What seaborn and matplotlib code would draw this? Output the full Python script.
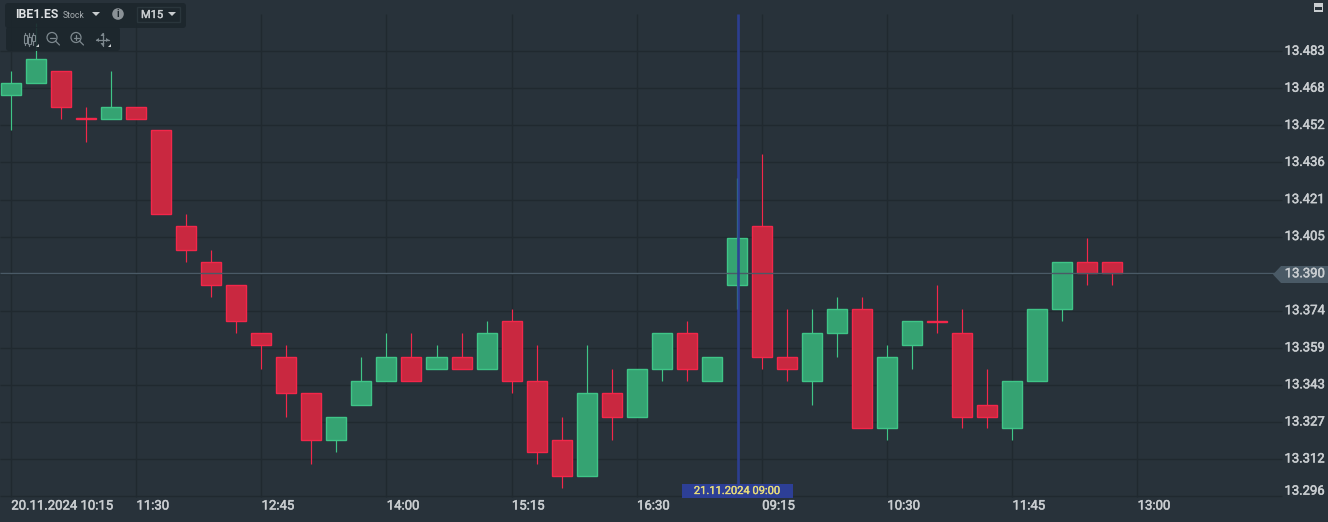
import numpy as np
import pandas as pd
import seaborn as sns
import matplotlib
matplotlib.use("Agg")
import matplotlib.pyplot as plt
import matplotlib.patheffects as pe
from matplotlib.patches import Rectangle, Polygon, Circle, FancyBboxPatch
from matplotlib.transforms import Affine2D, blended_transform_factory

opens  = [13.465,13.47,13.475,13.455,13.455,13.46,13.45,13.41,13.395,13.385,13.365,13.355,13.34,13.32,13.335,13.345,13.355,13.35,13.355,13.35,13.37,13.345,13.32,13.305,13.34,13.33,13.35,13.365,13.345,13.385,13.41,13.355,13.345,13.365,13.375,13.325,13.36,13.37,13.365,13.335,13.325,13.345,13.375,13.395,13.395]
closes = [13.47,13.48,13.46,13.455,13.46,13.455,13.415,13.40,13.385,13.37,13.36,13.34,13.32,13.33,13.345,13.355,13.345,13.355,13.35,13.365,13.345,13.315,13.305,13.34,13.33,13.35,13.365,13.35,13.355,13.405,13.355,13.35,13.365,13.375,13.325,13.355,13.37,13.37,13.33,13.33,13.345,13.375,13.395,13.39,13.39]
highs  = [13.475,13.495,13.475,13.46,13.475,13.46,13.45,13.415,13.40,13.385,13.365,13.36,13.34,13.33,13.355,13.365,13.365,13.36,13.365,13.37,13.375,13.36,13.33,13.36,13.35,13.35,13.365,13.37,13.355,13.43,13.44,13.375,13.375,13.38,13.38,13.36,13.37,13.385,13.375,13.35,13.345,13.375,13.395,13.405,13.395]
lows   = [13.45,13.47,13.455,13.445,13.455,13.455,13.415,13.395,13.38,13.365,13.35,13.33,13.31,13.315,13.335,13.345,13.345,13.35,13.35,13.35,13.34,13.31,13.30,13.305,13.32,13.33,13.345,13.345,13.345,13.375,13.35,13.345,13.335,13.355,13.325,13.32,13.35,13.365,13.325,13.325,13.32,13.345,13.37,13.385,13.385]

price_ticks  = [13.4832,13.4677,13.4521,13.4366,13.4210,13.4055,13.3899,13.3744,13.3588,13.3433,13.3277,13.3122,13.2966]
price_labels = ["13.483","13.468","13.452","13.436","13.421","13.405","13.390","13.374","13.359","13.343","13.327","13.312","13.296"]
time_ticks   = [0,5,10,15,20,25,30,35,40,45]
time_labels  = ["20.11.2024 10:15","11:30","12:45","14:00","15:15","16:30","09:15","10:30","11:45","13:00"]
last_price = 13.39
cursor_index = 29.04
cursor_label = "21.11.2024 09:00"

BG="#28323a"; GRID="#20292f"; TXT="#c9cdd0"; PANEL="#1c262c"
GF="#35a372"; GE="#3fc587"; RF="#c92840"; RE="#f3274a"; BLUE="#2d3f96"; LAST="#4a5a66"

sns.set_theme(style="dark", rc={"axes.facecolor":BG,"figure.facecolor":BG})
plt.rcParams['font.family']=['Roboto','DejaVu Sans']

df=pd.DataFrame({"i":np.arange(len(opens)),"o":opens,"c":closes,"h":highs,"l":lows})
df["height"]=(df.c-df.o).abs()
df["bottom"]=df[["o","c"]].min(axis=1)
thin=df.height<1e-6
df.loc[thin,"height"]=0.0005
df.loc[thin,"bottom"]-=0.00025
df["up"]=df.c>df.o

W,H=1328,522
fig=plt.figure(figsize=(W/100,H/100),dpi=100)
ax=fig.add_axes([0,0,1,1])
ppx=25.03; ppu=2384; x0=11.0; y0=273.5
for up,(fc,ec) in {True:(GF,GE),False:(RF,RE)}.items():
    d=df[df.up==up]
    ax.vlines(d.i,d.l,d.h,color=ec,lw=0.85,zorder=2.5)
    sns.barplot(data=d,x="i",y="height",native_scale=True,errorbar=None,ax=ax,
                bottom=d.bottom.values,width=0.8,color=fc,saturation=1,
                edgecolor=ec,linewidth=1.0,zorder=3)
ax.set_xlim(-x0/ppx,(W-x0)/ppx)
ax.set_ylim(last_price-(H-y0)/ppu,last_price+y0/ppu)
ax.axis("off")

px=Affine2D().scale(1,-1).translate(0,H)
xd=blended_transform_factory(ax.transData,px)
yd=blended_transform_factory(px,ax.transData)
heavy=[pe.withStroke(linewidth=0.35,foreground=TXT)]

# grid
ax.vlines(time_ticks,14,497,color=GRID,lw=1.0,transform=xd,zorder=1)
ax.hlines(price_ticks,0,1282,color=GRID,lw=1.0,transform=yd,zorder=1)
# time labels
for t,l in zip(time_ticks,time_labels):
    x=x0+t*ppx+0.3
    ax.text(x,506,l,transform=px,color=TXT,fontsize=9.45,ha="left",va="center",path_effects=heavy)
# price labels
for p,l in zip(price_ticks,price_labels):
    yy=y0+(last_price-p)*ppu
    if l=="13.296": yy-=5
    ax.text(1324.5,yy,l,transform=px,color=TXT,fontsize=9.4,ha="right",va="center",zorder=8,path_effects=heavy)
# last price
ax.hlines([last_price],0,1282,color=LAST,lw=1.0,transform=yd,zorder=5)
ax.add_patch(Polygon([(1273,274.5),(1281,266),(1328,266),(1328,283),(1281,283)],transform=px,fc=LAST,ec="none",zorder=6))
# cursor
ax.vlines([cursor_index],14,484,color=BLUE,lw=1.9,alpha=0.95,transform=xd,zorder=6)
ax.add_patch(Rectangle((681.5,483.5),111,14.5,transform=px,fc=BLUE,ec="none",zorder=7))
ax.text(737,491,cursor_label,transform=px,color="#e8dc7a",fontsize=8,ha="center",va="center",zorder=8,
        path_effects=[pe.withStroke(linewidth=0.25,foreground="#e8dc7a")])

# toolbar panels
ax.add_patch(FancyBboxPatch((8,6),175,19,boxstyle="round,pad=3",transform=px,fc=PANEL,ec="none",alpha=0.9,zorder=7))
ax.add_patch(FancyBboxPatch((9,30),108,18,boxstyle="round,pad=3",transform=px,fc=PANEL,ec="none",alpha=0.9,zorder=7))
ax.add_patch(Rectangle((136.5,6.5),43,15,transform=px,fc="none",ec="#2a363c",lw=1,zorder=8))
ax.text(15.5,15,"IBE1.ES",transform=px,color="#dfe2e4",fontsize=8.8,fontweight="bold",ha="left",va="center",zorder=9)
ax.text(63,15.5,"Stock",transform=px,color="#a9afb3",fontsize=6.2,ha="left",va="center",zorder=9)
ax.add_patch(Polygon([(92,12),(100,12),(96,16)],transform=px,fc="#c9cdd0",ec="none",zorder=9))
ax.add_patch(Circle((118,14),5.8,transform=px,fc="#8a9196",ec="none",zorder=9))
ax.text(118,14,"i",transform=px,color=PANEL,fontsize=7,fontweight="bold",ha="center",va="center",zorder=10)
ax.text(141,15,"M15",transform=px,color="#c9cdd0",fontsize=8,ha="left",va="center",zorder=9,
        path_effects=[pe.withStroke(linewidth=0.3,foreground="#c9cdd0")])
ax.add_patch(Polygon([(168,12),(176,12),(172,16)],transform=px,fc="#c9cdd0",ec="none",zorder=9))
IC="#7d888e"
# candles icon
for xx,(a,b,c,d_) in zip((25,29,33),((33,45,35,43),(33,46,37,44),(33,45,35,41))):
    ax.plot([xx,xx],[a,b],color=IC,lw=0.9,transform=px,zorder=9)
    ax.add_patch(Rectangle((xx-1.5,c),3,d_-c,transform=px,fc=PANEL,ec=IC,lw=0.8,zorder=10))
# magnifiers
for cx,plus in ((52,False),(76,True)):
    ax.add_patch(Circle((cx,37.5),5,transform=px,fc="none",ec=IC,lw=0.9,zorder=9))
    ax.plot([cx+3.5,cx+7.5],[41,45],color=IC,lw=0.9,transform=px,zorder=9)
    ax.plot([cx-2.5,cx+2.5],[37.5,37.5],color=IC,lw=0.9,transform=px,zorder=9)
    if plus: ax.plot([cx,cx],[35,40],color=IC,lw=0.9,transform=px,zorder=9)
# move
ax.plot([96,109],[40,40],color=IC,lw=0.9,transform=px,zorder=9)
ax.plot([102.5,102.5],[33,46],color=IC,lw=0.9,transform=px,zorder=9)
for pts in ([(96,40),(99,38),(99,42)],[(109,40),(106,38),(106,42)],[(102.5,33),(100.5,36),(104.5,36)],[(102.5,46),(100.5,43),(104.5,43)]):
    ax.add_patch(Polygon(pts,transform=px,fc=IC,ec="none",zorder=9))
for pts in ([(36,47),(39,47),(39,44)],[(108,47),(111,47),(111,44)]):
    ax.add_patch(Polygon(pts,transform=px,fc="#c9cdd0",ec="none",zorder=9))
# minimise icon
ax.add_patch(Rectangle((1314,3),9,9,transform=px,fc="#c9cdd0",ec="none",zorder=9))
ax.add_patch(Rectangle((1315,7),7,2.5,transform=px,fc="#28323a",ec="none",zorder=10))

fig.savefig("out.png",dpi=100,facecolor=BG)
